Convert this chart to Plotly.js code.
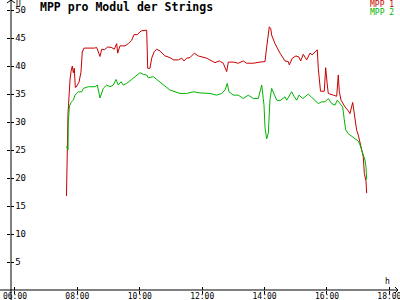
<!DOCTYPE html>
<html>
<head>
<meta charset="utf-8">
<script src="https://cdn.plot.ly/plotly-3.0.1.min.js"></script>
<style>html,body{margin:0;padding:0;background:#fff;}#chart{width:400px;height:300px;}</style>
</head>
<body>
<div id="chart"></div>
<script>
// time in decimal hours, values in V
const mpp1Time = [7.65,7.667,7.683,7.699,7.715,7.731,7.763,7.795,7.837,7.869,7.901,7.933,7.955,8.051,8.115,8.157,8.212,8.542,8.619,8.724,8.779,8.862,8.971,9.099,9.183,9.260,9.292,9.365,9.526,9.631,9.740,9.814,9.920,10.006,10.061,10.221,10.253,10.327,10.381,10.465,10.542,10.647,10.808,10.968,11.074,11.234,11.343,11.417,11.503,11.609,11.747,11.875,12.144,12.410,12.548,12.676,12.785,12.837,12.997,13.157,13.317,13.426,13.638,13.853,14.013,14.067,14.151,14.196,14.228,14.333,14.494,14.654,14.760,14.792,14.888,15.006,15.103,15.157,15.240,15.349,15.455,15.529,15.615,15.689,15.721,15.776,15.792,15.913,15.958,16.010,16.042,16.202,16.311,16.362,16.394,16.449,16.577,16.683,16.737,16.824,16.897,16.952,17.003,17.058,17.112,17.163,17.196,17.250,17.272];
const mpp1Value = [16.8,24.8,27.2,31.5,33.0,35.0,37.5,39.0,40.0,38.8,39.6,36.2,36.2,37.1,38.9,42.5,43.2,43.2,43.3,41.7,43.0,42.9,43.4,43.3,43.0,44.0,42.3,43.6,43.6,44.0,44.6,45.6,45.6,46.1,46.3,46.4,39.6,39.6,41.4,42.6,43.0,42.7,41.8,41.5,41.1,41.1,41.4,40.9,41.4,41.5,42.3,41.8,41.4,40.6,40.9,40.5,39.0,40.7,40.7,40.5,40.9,40.5,40.5,40.7,40.8,43.4,47.0,46.7,45.5,44.0,42.3,40.9,40.8,40.2,41.4,41.8,41.6,40.9,42.1,41.1,42.3,42.0,42.4,42.9,39.6,36.6,35.5,35.5,39.7,36.6,35.1,34.8,34.6,38.4,35.5,33.9,32.7,32.0,31.5,33.5,30.3,28.5,27.7,26.5,25.0,23.8,20.8,19.5,17.3];

const mpp2Time = [7.65,7.667,7.699,7.708,7.721,7.747,7.763,7.795,7.869,7.923,8.029,8.138,8.189,8.349,8.564,8.638,8.724,8.779,8.830,8.939,9.045,9.151,9.237,9.311,9.397,9.471,9.580,9.740,9.901,10.006,10.112,10.221,10.272,10.433,10.542,10.647,10.808,10.968,11.128,11.288,11.503,11.715,11.929,12.144,12.250,12.465,12.625,12.731,12.804,12.859,12.997,13.157,13.317,13.478,13.638,13.798,13.907,13.958,13.981,14.013,14.067,14.119,14.151,14.173,14.228,14.333,14.388,14.494,14.654,14.708,14.782,14.869,14.952,15.029,15.103,15.221,15.295,15.401,15.510,15.615,15.721,15.830,15.936,16.042,16.151,16.256,16.330,16.417,16.503,16.554,16.599,16.683,16.792,16.897,17.003,17.058,17.112,17.163,17.218,17.250,17.272];
const mpp2Value = [25.6,25.2,25.0,30.0,32.0,33.0,33.0,33.5,33.9,34.8,35.4,35.4,36.0,36.3,36.3,36.6,34.3,35.1,36.0,36.6,36.3,36.6,37.6,36.6,37.2,36.6,36.9,37.6,38.4,38.8,38.5,38.4,37.9,38.1,37.6,37.1,36.4,35.7,35.4,35.1,35.1,35.4,35.2,35.1,35.1,34.8,35.1,35.7,36.9,35.4,34.8,34.8,34.2,34.8,34.2,34.2,36.6,34.2,33.0,29.0,27.0,28.0,31.0,34.0,36.0,34.8,33.9,33.8,34.5,33.9,34.5,35.4,34.5,33.9,34.8,34.2,34.5,35.0,34.4,33.9,33.3,33.6,33.6,34.2,33.3,33.0,33.9,33.3,32.7,30.4,28.6,27.9,27.5,27.1,26.6,25.9,25.0,24.0,23.2,22.0,19.7];

const seriesNames = ["MPP 1", "MPP 2"];
const seriesColors = ["#c80000", "#00b400"];
const xTickVals = [6, 8, 10, 12, 14, 16, 18];
const xTickText = ["06:00", "08:00", "10:00", "12:00", "14:00", "16:00", "18:00"];
const yTickVals = [5, 10, 15, 20, 25, 30, 35, 40, 45, 50];
const chartTitle = "MPP pro Modul der Strings";

const mono = "DejaVu Sans Mono, Liberation Mono, monospace";
const xRange = [5.872, 18.276];
const yRange = [0, 51.79];

const traces = [
  {x: mpp1Time, y: mpp1Value, name: seriesNames[0], type: "scatter", mode: "lines",
   line: {color: seriesColors[0], width: 1}, xaxis: "x", yaxis: "y"},
  {x: mpp2Time, y: mpp2Value, name: seriesNames[1], type: "scatter", mode: "lines",
   line: {color: seriesColors[1], width: 1}, xaxis: "x2", yaxis: "y2"}
];

const baseX = {range: xRange, showgrid: false, zeroline: false, showline: false,
  tickvals: xTickVals, fixedrange: true, tickcolor: "#000", tickwidth: 1, ticklen: 3};
const baseY = {range: yRange, showgrid: false, zeroline: false, showline: false,
  tickvals: yTickVals, fixedrange: true, tickcolor: "#000", tickwidth: 1, ticklen: 3};

const layout = {
  width: 400, height: 300,
  margin: {l: 11, r: 2, t: 0, b: 10, pad: 0},
  paper_bgcolor: "#fff", plot_bgcolor: "#fff",
  showlegend: false,
  title: {text: chartTitle, font: {family: mono, size: 11.5, color: "#000", weight: "bold"},
    xref: "container", yref: "container", x: 0.1, xanchor: "left", y: 0.977, yanchor: "middle"},
  xaxis: Object.assign({}, baseX, {ticks: "inside", ticktext: xTickText, ticklabeloverflow: "allow",
    tickfont: {family: mono, size: 8, color: "#000"}}),
  xaxis2: Object.assign({}, baseX, {ticks: "outside", showticklabels: false, overlaying: "x", anchor: "y"}),
  yaxis: Object.assign({}, baseY, {ticks: "inside", ticklabelposition: "inside", ticklabeloverflow: "allow",
    tickfont: {family: mono, size: 9, color: "#000"}}),
  yaxis2: Object.assign({}, baseY, {ticks: "outside", showticklabels: false, overlaying: "y", anchor: "x"}),
  shapes: [
    {type: "line", xref: "paper", yref: "paper", x0: 0, x1: 0, y0: -0.0345, y1: 1, line: {color: "#000", width: 1}},
    {type: "line", xref: "paper", yref: "paper", x0: -0.0284, x1: 1, y0: 0, y1: 0, line: {color: "#000", width: 1}},
    {type: "path", xref: "paper", yref: "paper", path: "M -0.01034 0.98966 L 0 1 L 0.01034 0.98966", line: {color: "#000", width: 1}},
    {type: "path", xref: "paper", yref: "paper", path: "M 0.99225 0.01034 L 1 0 L 0.99225 -0.01034", line: {color: "#000", width: 1}}
  ],
  annotations: [
    {text: seriesNames[0], xref: "paper", yref: "paper", x: 0.9587, y: 0.9862, xanchor: "center", yanchor: "middle",
     showarrow: false, font: {family: mono, size: 8, color: seriesColors[0]}},
    {text: seriesNames[1], xref: "paper", yref: "paper", x: 0.9587, y: 0.9586, xanchor: "center", yanchor: "middle",
     showarrow: false, font: {family: mono, size: 8, color: seriesColors[1]}},
    {text: "U", xref: "paper", yref: "paper", x: 0.0181, y: 0.985, xanchor: "center", yanchor: "middle",
     showarrow: false, font: {family: mono, size: 8, color: "#000"}},
    {text: "h", xref: "paper", yref: "paper", x: 0.9716, y: 0.031, xanchor: "center", yanchor: "middle",
     showarrow: false, font: {family: mono, size: 8, color: "#000"}}
  ]
};

Plotly.newPlot("chart", traces, layout, {staticPlot: true, displayModeBar: false});
</script>
</body>
</html>
